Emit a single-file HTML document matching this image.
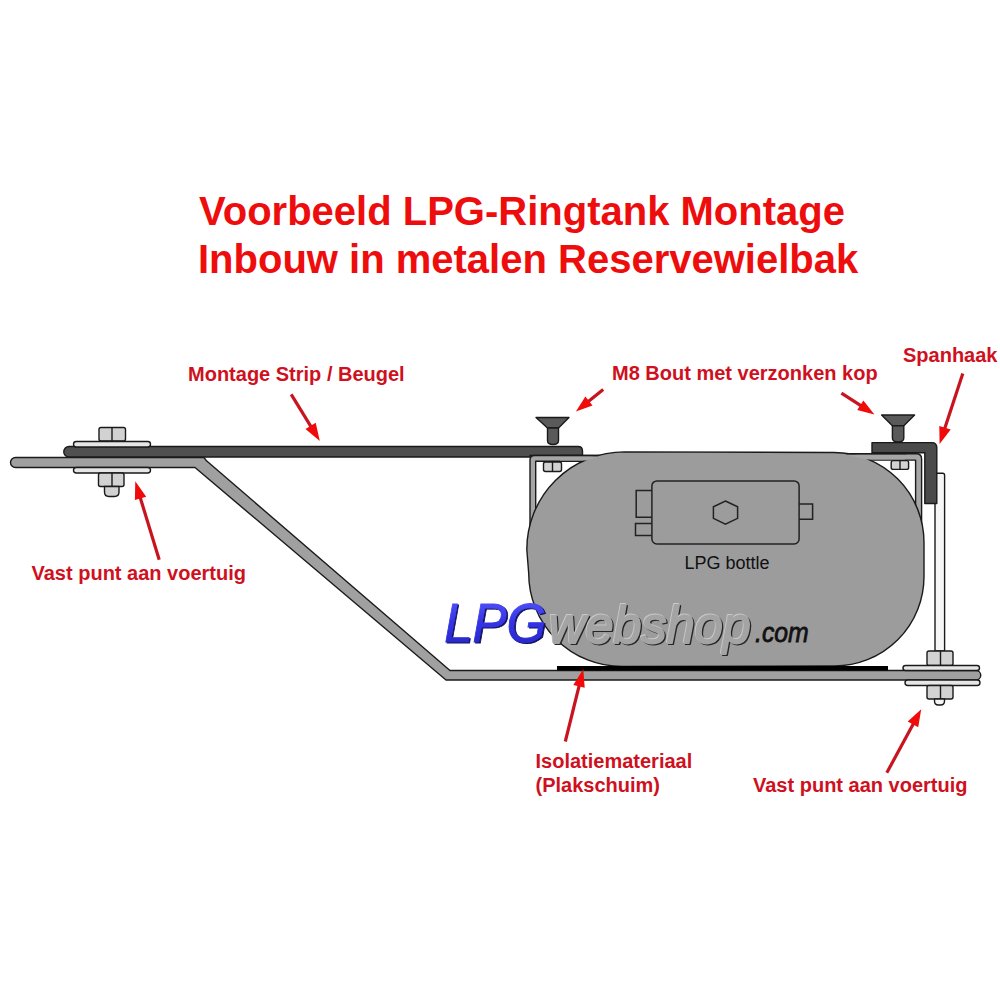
<!DOCTYPE html>
<html><head><meta charset="utf-8">
<style>
html,body{margin:0;padding:0;background:#fff;width:1000px;height:1000px;overflow:hidden}
svg{display:block}
text{font-family:"Liberation Sans",sans-serif}
</style></head><body>
<svg width="1000" height="1000" viewBox="0 0 1000 1000">
<defs>
<linearGradient id="lpgGrad" x1="0" y1="0" x2="0" y2="1">
<stop offset="0" stop-color="#5a5aff"/><stop offset="0.5" stop-color="#3434e6"/><stop offset="1" stop-color="#2424c0"/>
</linearGradient>
</defs>
<text x="199" y="225" font-size="40" font-weight="bold" fill="#ee0d0d">Voorbeeld LPG-Ringtank Montage</text>
<text x="198" y="273" font-size="40" font-weight="bold" fill="#ee0d0d">Inbouw in metalen Reservewielbak</text>
<g font-size="20" font-weight="bold" fill="#cf1020">
<text x="188" y="381">Montage Strip / Beugel</text>
<text x="612" y="380">M8 Bout met verzonken kop</text>
<text x="903" y="362.3">Spanhaak</text>
<text x="31.5" y="579.6">Vast punt aan voertuig</text>
<text x="535.5" y="767.5">Isolatiemateriaal</text>
<text x="535.5" y="791.5">(Plakschuim)</text>
<text x="753" y="791.5">Vast punt aan voertuig</text>
</g>
<g stroke="#1a1a1a" stroke-width="1.4" stroke-linejoin="round">
<path d="M15.5,457.5 L204,457.5 L206.5,460.8 L450,670.5 L976,670.5 A4.75,4.75 0 0 1 976,680 L446,680 L195,467.5 L15.5,467.5 A5,5 0 0 1 15.5,457.5 Z" fill="#a0a0a0"/>
<path d="M69,446.5 L578,446.5 Q582.5,446.5 582.5,451 L582.5,455.5 L530,455.5 L530,457 L69,457 A5.25,5.25 0 0 1 69,446.5 Z" fill="#505050"/>
<path d="M530,540 L530,460 Q530,455.5 534.5,455.5 L605,455.5 L605,461.3 L535.7,461.3 L535.7,540 Z" fill="#a6a6a6"/>
<path d="M921.6,540 L921.6,459 Q921.6,453.8 916.4,453.8 L845,453.8 L845,460.1 L915.6,460.1 L915.6,540 Z" fill="#a6a6a6"/>
<path d="M935,651 L935,473.2 L942.6,473.2 Q944.6,473.2 944.6,475.2 L944.6,651 Z" fill="#f6f6f6"/>
<path d="M624.4,451.9 L834,452.5 A90,90 0 0 1 924,542.5 L924,576.5 A89.5,89.5 0 0 1 834.5,666 L622,666.5 A93.3,93.3 0 0 1 528.7,573.2 L526.8,549.5 A97.6,97.6 0 0 1 624.4,451.9 Z" fill="#9c9c9c"/>
<path d="M560,456.2 L602,456.2 L587,460.6 L560,460.6 Z" fill="#a6a6a6" stroke="none"/>
<path d="M560,455.5 L599,455.5" fill="none"/>
<path d="M845,454.5 L905,454.5 L905,459.4 L866,459.4 Z" fill="#a6a6a6" stroke="none"/>
<path d="M846,453.8 L906,453.8" fill="none"/>
<rect x="543.5" y="462" width="18.0" height="9.5" rx="2" fill="#d2d2d2"/><line x1="552.5" y1="462" x2="552.5" y2="471.5"/>
<rect x="891.2" y="460.6" width="17.399999999999977" height="8.799999999999955" rx="2" fill="#d2d2d2"/><line x1="900" y1="460.6" x2="900" y2="469.4"/>
<rect x="557" y="666" width="331" height="4.4" fill="#000" stroke="none"/>
<path d="M536,417.5 L569,417.5 L558.5,428 L547.5,428 Z" fill="#5a5a5a"/><path d="M547.5,428 L558.5,428 L558.5,440.5 Q558.5,444.5 553.0,444.5 Q547.5,444.5 547.5,440.5 Z" fill="#5a5a5a"/>
<path d="M881.6,415 L914.6,415 L903.8,425.8 L892.4,425.8 Z" fill="#5a5a5a"/><path d="M892.4,425.8 L903.8,425.8 L903.8,438 Q903.8,442 898.0999999999999,442 Q892.4,442 892.4,438 Z" fill="#5a5a5a"/>
<path d="M872,442.6 L931.8,442.6 Q936.8,442.6 936.8,447.6 L936.8,503.5 L924.8,503.5 L924.8,452.8 L872,452.8 Z" fill="#4a4a4a"/>
<rect x="99" y="427.5" width="26.5" height="13.5" rx="2" fill="#d2d2d2"/><line x1="112" y1="427.5" x2="112" y2="441"/>
<rect x="73.5" y="441.5" width="77.0" height="5.5" rx="2.75" fill="#e6e6e6"/>
<rect x="73.5" y="467.5" width="77.0" height="5.5" rx="2.75" fill="#e6e6e6"/>
<rect x="98.5" y="473" width="25.5" height="13.5" rx="2" fill="#d2d2d2"/><line x1="112" y1="473" x2="112" y2="486.5"/>
<path d="M104.5,486.5 L119,486.5 L119,492 Q119,496.5 114.5,496.5 L109,496.5 Q104.5,496.5 104.5,492 Z" fill="#d2d2d2"/>
<rect x="927" y="651" width="26" height="14.5" rx="2" fill="#d2d2d2"/><line x1="940.5" y1="651" x2="940.5" y2="665.5"/>
<rect x="903" y="665.5" width="76.5" height="5.0" rx="2.5" fill="#e6e6e6"/>
<rect x="905" y="680" width="75" height="5.5" rx="2.75" fill="#e6e6e6"/>
<rect x="927" y="685.5" width="26" height="13.5" rx="2" fill="#d2d2d2"/><line x1="940.5" y1="685.5" x2="940.5" y2="699"/>
<path d="M934.5,699 L944.5,699 L944.5,701 Q944.5,705 940.5,705 L938.5,705 Q934.5,705 934.5,701 Z" fill="#f6f6f6"/>
</g>
<g stroke="#222" stroke-width="1.5" fill="none">
<rect x="651.9" y="480.9" width="147.2" height="63" rx="5"/>
<path d="M651.9,490.6 L636.2,490.6 L636.2,517.2 L651.9,517.2"/>
<path d="M651.9,523.5 L635.5,523.5 L635.5,535.5 L651.9,535.5"/>
<path d="M799.1,504 L812.6,504 L812.6,519.3 L799.1,519.3"/>
<path d="M725.4,501.0 L737.6,506.8 L737.6,518.4 L725.4,524.2 L713.4,518.4 L713.4,506.8 Z"/>
</g>
<text x="684.5" y="568.9" font-size="18" fill="#111">LPG bottle</text>
<line x1="291.2" y1="394.4" x2="311.6" y2="427.6" stroke="#c8141e" stroke-width="3.2" stroke-linecap="butt"/><path d="M319.8,440.9 L305.5,429.1 L315.7,422.8 Z" fill="#f00a0a"/>
<line x1="603.2" y1="389.6" x2="587.4" y2="402.3" stroke="#c8141e" stroke-width="3.2" stroke-linecap="butt"/><path d="M575.9,411.5 L585.4,396.6 L592.5,405.5 Z" fill="#f00a0a"/>
<line x1="841.4" y1="393.1" x2="862.0" y2="406.4" stroke="#c8141e" stroke-width="3.2" stroke-linecap="butt"/><path d="M874.4,414.4 L857.2,410.1 L863.4,400.5 Z" fill="#f00a0a"/>
<line x1="962.8" y1="373.6" x2="944.3" y2="429.7" stroke="#c8141e" stroke-width="3.2" stroke-linecap="butt"/><path d="M939.6,444.0 L939.3,425.9 L950.7,429.6 Z" fill="#f00a0a"/>
<line x1="159.2" y1="559.8" x2="139.9" y2="496.5" stroke="#c8141e" stroke-width="3.2" stroke-linecap="butt"/><path d="M135.3,481.3 L146.2,496.7 L134.9,500.1 Z" fill="#f00a0a"/>
<line x1="565.3" y1="741.5" x2="579.5" y2="684.4" stroke="#c8141e" stroke-width="3.2" stroke-linecap="butt"/><path d="M583.3,669.0 L584.7,687.8 L573.3,685.0 Z" fill="#f00a0a"/>
<line x1="886.8" y1="772.8" x2="913.9" y2="722.7" stroke="#c8141e" stroke-width="3.2" stroke-linecap="butt"/><path d="M921.2,709.2 L918.2,727.3 L907.7,721.6 Z" fill="#f00a0a"/>
<g font-style="italic">
<g transform="translate(444.2,641.8) scale(0.928,1)">
<text x="0" y="0" font-size="55" fill="#10105a" stroke="#10105a" stroke-width="0.9" transform="translate(1.5,1.4)">LPG</text>
<text x="0" y="0" font-size="55" fill="url(#lpgGrad)" stroke="url(#lpgGrad)" stroke-width="0.9">LPG</text>
</g>
<g transform="translate(549,642.6) scale(0.96,1)" stroke-linejoin="round">
<text x="0" y="0" font-size="52.5" fill="#262626" stroke="#262626" stroke-width="1.8" transform="translate(1.3,1.3)">webshop</text>
<text x="0" y="0" font-size="52.5" fill="#c8c8c8" stroke="#c8c8c8" stroke-width="1.8" transform="translate(-0.7,-0.7)">webshop</text>
<text x="0" y="0" font-size="52.5" fill="#a4a4a4" stroke="#a4a4a4" stroke-width="1.8">webshop</text>
</g>
<g transform="translate(755,642.3) scale(0.87,1)">
<text x="0" y="0" font-size="28.5" fill="#111" stroke="#111" stroke-width="0.8">.com</text>
</g>
</g>
</svg>
</body></html>
